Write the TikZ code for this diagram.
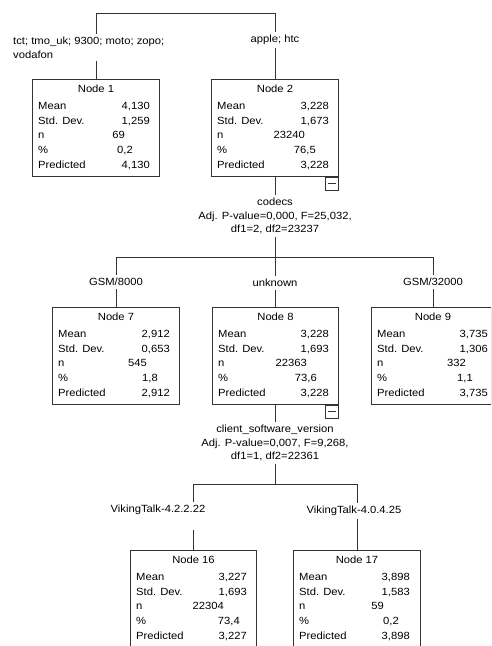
\documentclass[tikz,border=0pt]{standalone}
\usepackage{fontspec}
\setmainfont{Liberation Sans}[FakeStretch=1.08]
\usetikzlibrary{calc}
\newcommand\treefont{\fontsize{10.4}{13.8}\selectfont}
\definecolor{linec}{gray}{0.2}
\newcommand\treebox[6]{%
  \node[box, minimum width=#4, minimum height=#5] (#1) at (#2,#3) {};
  \node[txt, anchor=base] (#1-t) at ($(#1.north)+(0,13.2)$) {#6};
}
% #1 name, #2 mean, #3 sd, #4 n, #5 n offset, #6 pct, #7 pct offset, #8 pred, #9 value offset
\newcommand\treevals[9]{%
  \node[txt, anchor=base west] (#1-a) at ($(#1.north west)+(6,30.2)$) {Mean};
  \node[txt, anchor=base west] (#1-b) at ($(#1.north west)+(6,45)$) {Std. Dev.};
  \node[txt, anchor=base west] (#1-c) at ($(#1.north west)+(6,59.8)$) {n};
  \node[txt, anchor=base west] (#1-d) at ($(#1.north west)+(6,74.6)$) {\%};
  \node[txt, anchor=base west] (#1-e) at ($(#1.north west)+(6,89.4)$) {Predicted};
  \node[txt, anchor=base east] (#1-va) at ($(#1.north west)+(#9,30.2)$) {#2};
  \node[txt, anchor=base east] (#1-vb) at ($(#1.north west)+(#9,45)$) {#3};
  \node[txt, anchor=base east] (#1-vc) at ($(#1.north west)+(#5,59.8)$) {#4};
  \node[txt, anchor=base east] (#1-vd) at ($(#1.north west)+(#7,74.6)$) {#6};
  \node[txt, anchor=base east] (#1-ve) at ($(#1.north west)+(#9,89.4)$) {#8};
}
\begin{document}
\begin{tikzpicture}[x=1pt,y=-1pt,font=\treefont,
  box/.style={draw=linec, line width=1pt, anchor=north west, inner sep=0pt},
  txt/.style={inner sep=0pt, text=black},
  conn/.style={draw=linec, line width=1pt},
  lab/.style={fill=white, inner sep=3pt, align=center, text=black},
  minus/.style={draw=linec, line width=1pt, fill=white, minimum size=13.5, inner sep=0pt,
    path picture={\draw[linec, line width=1pt] ($(path picture bounding box.west)+(2.5,0)$) -- ($(path picture bounding box.east)+(-2.5,0)$);}}]
\useasboundingbox (0,0) rectangle (491,646);
\clip (0,0) rectangle (491,646);

% boxes
\treebox{n1}{32}{79}{127}{97}{Node 1}
\treevals{n1}{4,130}{1,259}{69}{93}{0,2}{101}{4,130}{118}
\treebox{n2}{211}{79}{127}{96.5}{Node 2}
\treevals{n2}{3,228}{1,673}{23240}{94}{76,5}{105}{3,228}{118}
\node[minus, anchor=north east] (m2) at (n2.south east) {};

\treebox{n7}{52}{307}{127}{96.5}{Node 7}
\treevals{n7}{2,912}{0,653}{545}{95}{1,8}{106}{2,912}{118}
\treebox{n8}{212}{307}{126}{96.5}{Node 8}
\treevals{n8}{3,228}{1,693}{22363}{95}{73,6}{105}{3,228}{117}
\node[minus, anchor=north east] (m8) at (n8.south east) {};
\treebox{n9}{371}{307}{119.5}{96.5}{}
\node[txt, anchor=base] (n9-t) at (433,320.2) {Node 9};
\treevals{n9}{3,735}{1,306}{332}{95}{1,1}{102}{3,735}{117}

\treebox{n16}{130}{550}{126}{110}{Node 16}
\treevals{n16}{3,227}{1,693}{22304}{94}{73,4}{110}{3,227}{117}
\treebox{n17}{293}{550}{127}{110}{Node 17}
\treevals{n17}{3,898}{1,583}{59}{91}{0,2}{106}{3,898}{117}

% level coordinates
\coordinate (top) at (0,13);
\coordinate (lv2) at (0,257);
\coordinate (lv3) at (0,484);
\coordinate (c9) at (433,0);

% connectors
\draw[conn] (n1.north) -- (n1.north |- top) -- (n2.north |- top) -- (n2.north);
\draw[conn] (n2.south) -- (n2.south |- lv2);
\draw[conn] (n7.north) -- (n7.north |- lv2) -- (c9 |- lv2) -- (c9 |- n9.north);
\draw[conn] (n8.north) -- (n8.north |- lv2);
\draw[conn] (n8.south) -- (n8.south |- lv3);
\draw[conn] (n16.north) -- (n16.north |- lv3) -- (n17.north |- lv3) -- (n17.north);

% labels
\node[lab, align=left, anchor=west] (l1) at (10,47.5) {tct; tmo\_uk; 9300; moto; zopo;\\vodafon};
\node[lab] (l2) at (275,40) {apple; htc};
\node[lab] (s2) at (275,216) {codecs\\Adj. P-value=0,000, F=25,032,\\df1=2, df2=23237};
\node[lab] (l7) at (116,282) {GSM/8000};
\node[lab] (l8) at (275,283) {unknown};
\node[lab] (l9) at (433,282) {GSM/32000};
\node[lab] (s8) at (275,443) {client\_software\_version\\Adj. P-value=0,007, F=9,268,\\df1=1, df2=22361};
\node[lab, anchor=north, text depth=14pt] (l16) at (158,502) {VikingTalk-4.2.2.22};
\node[lab] (l17) at (354,511) {VikingTalk-4.0.4.25};
\end{tikzpicture}
\end{document}
